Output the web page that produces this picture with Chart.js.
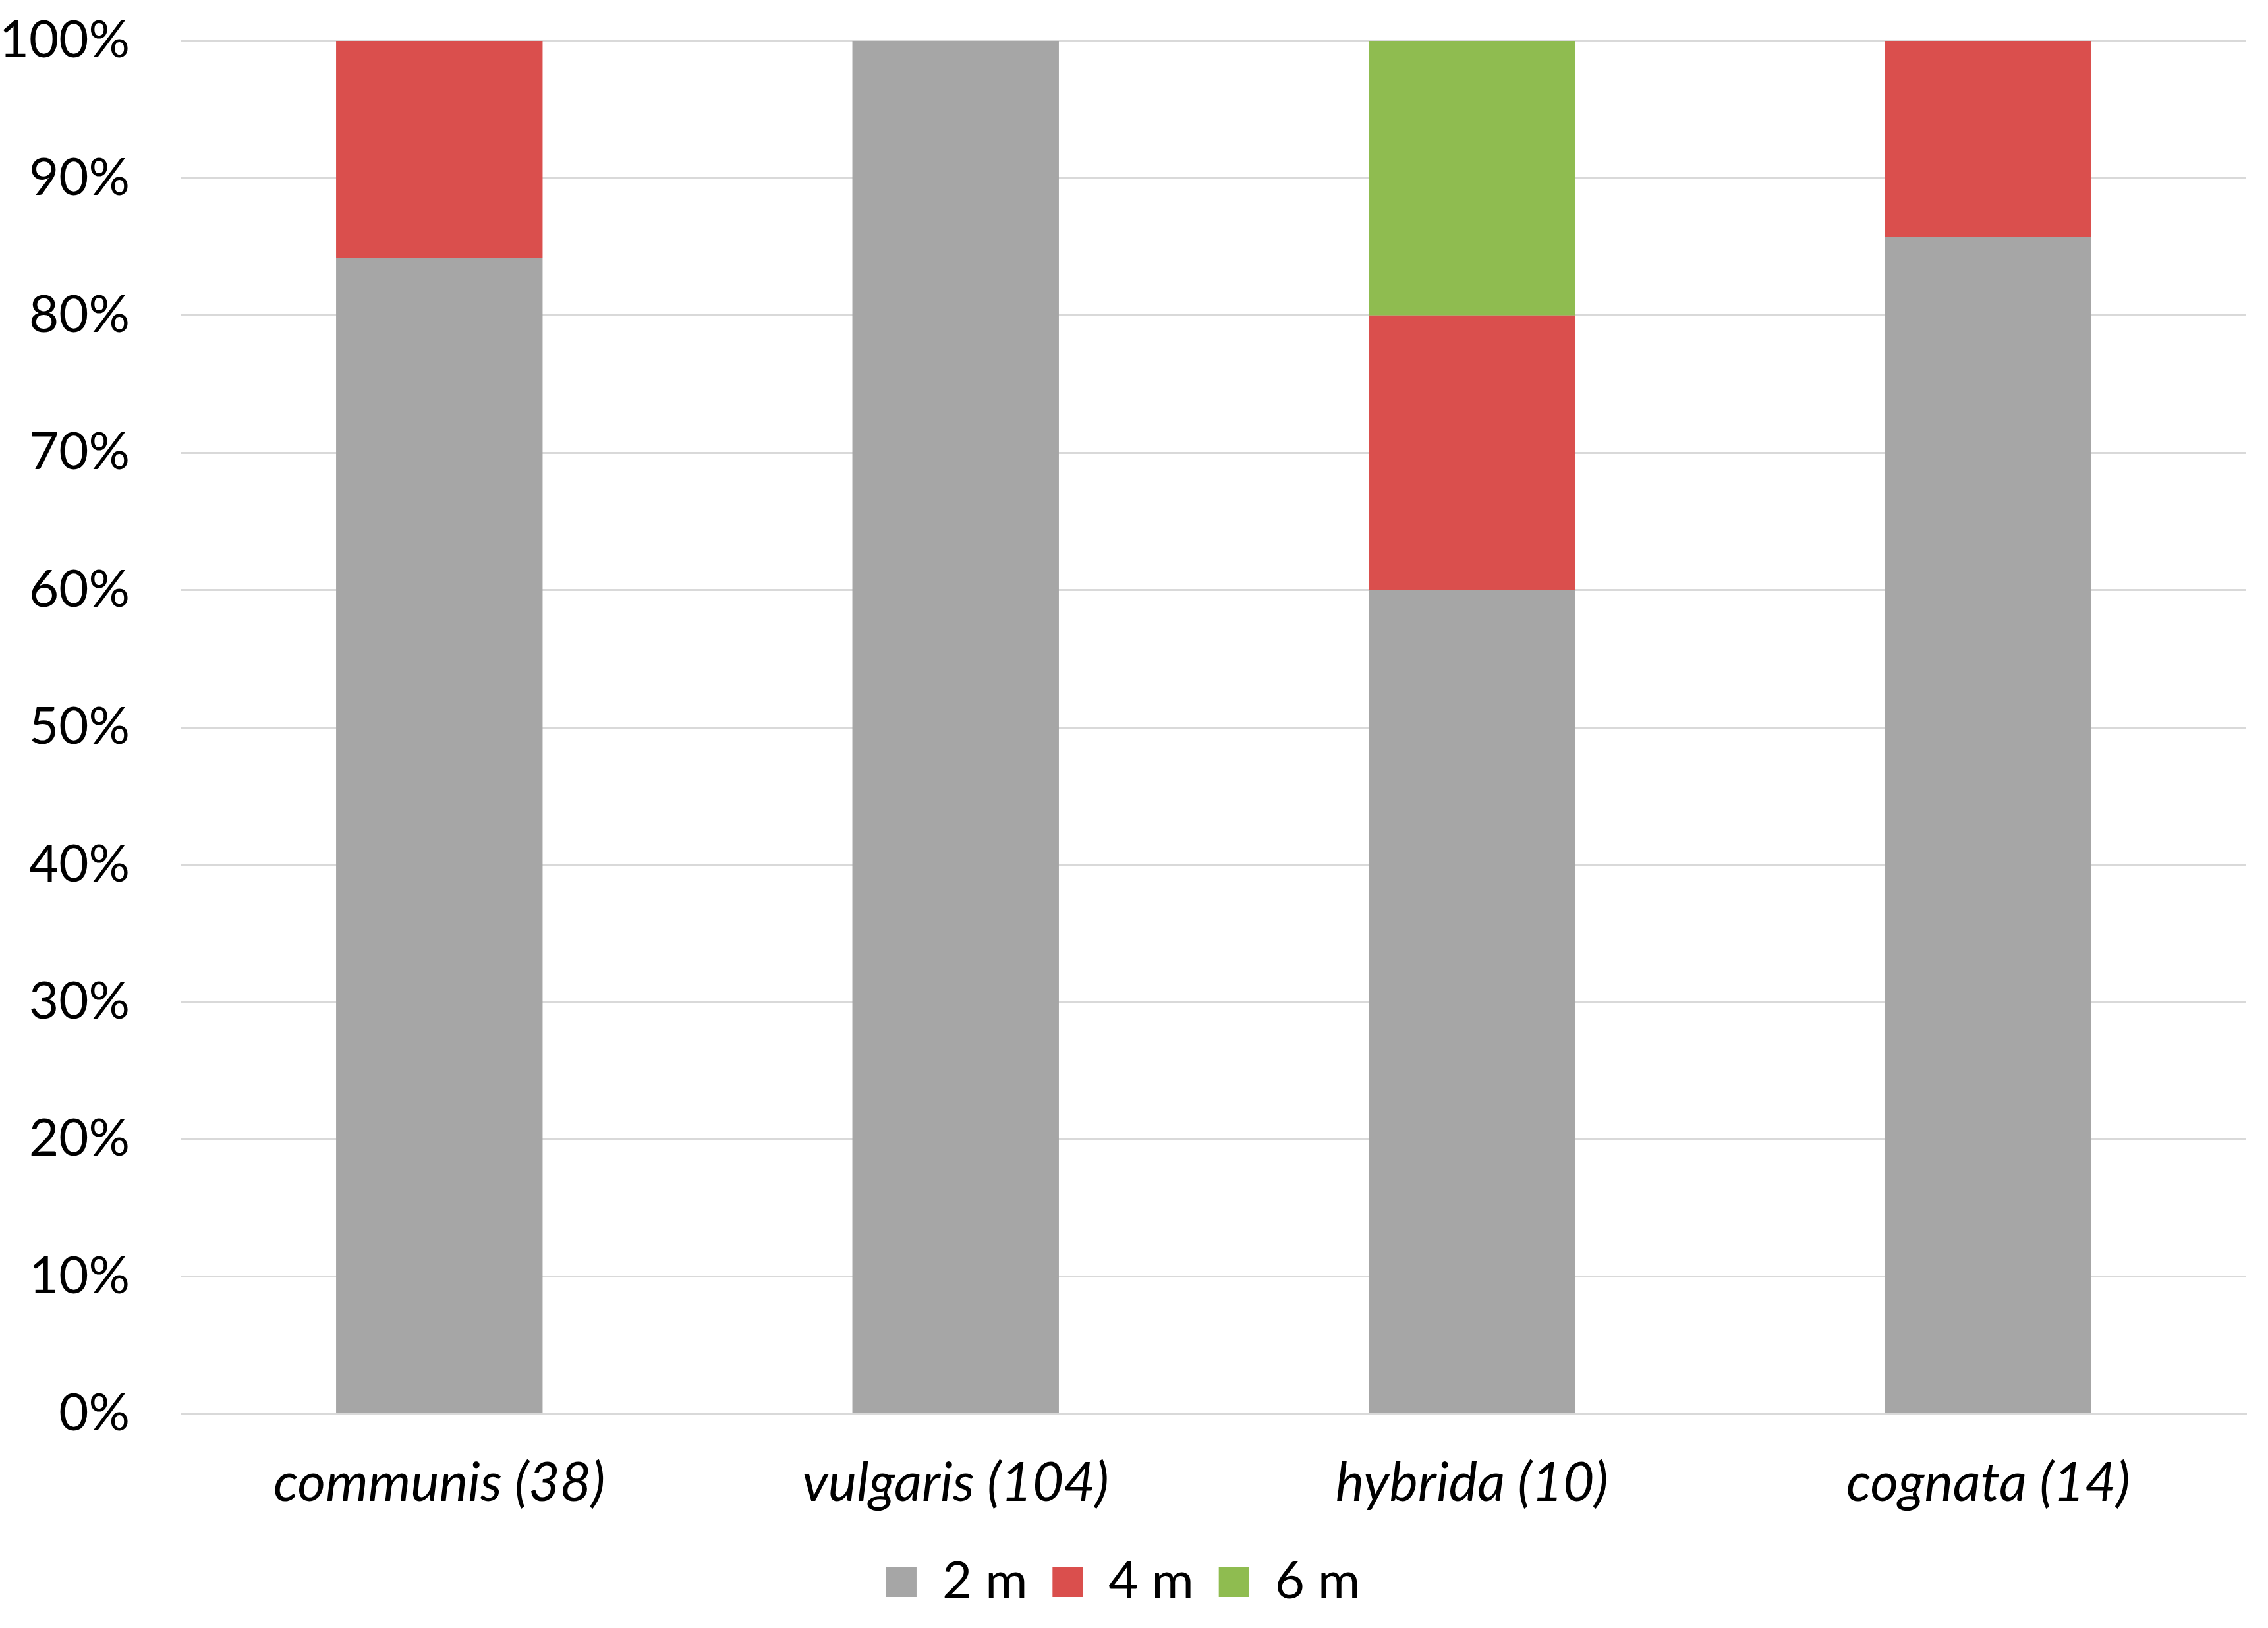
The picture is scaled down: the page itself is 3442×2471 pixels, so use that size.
<!DOCTYPE html>
<html>
<head>
<meta charset="utf-8">
<script src="https://cdn.jsdelivr.net/npm/chart.js@4/dist/chart.umd.min.js"></script>
<style>
html,body{margin:0;padding:0;background:#fff;}
#wrap{width:3442px;height:2471px;}
</style>
</head>
<body>
<div id="wrap"><canvas id="c" width="3442" height="2471"></canvas></div>
<script>
const categories = ["communis (38)", "vulgaris (104)", "hybrida (10)", "cognata (14)"];
const series2m = [84.2, 100, 60, 85.7];
const series4m = [15.8, 0, 20, 14.3];
const series6m = [0, 0, 20, 0];
const seriesNames = ["2 m", "4 m", "6 m"];
const yTicks = [0, 10, 20, 30, 40, 50, 60, 70, 80, 90, 100];

const ctx = document.getElementById('c').getContext('2d');
new Chart(ctx, {
  type: 'bar',
  data: {
    labels: categories,
    datasets: [
      {label: seriesNames[0], data: series2m, backgroundColor: '#A6A6A6'},
      {label: seriesNames[1], data: series4m, backgroundColor: '#DA4F4D'},
      {label: seriesNames[2], data: series6m, backgroundColor: '#8FBC50'}
    ]
  },
  options: {
    responsive: false,
    animation: false,
    devicePixelRatio: 1,
    layout: {padding: {left: 0, right: 33, top: 0, bottom: 21}},
    datasets: {bar: {categoryPercentage: 1.0, barPercentage: 0.4}},
    plugins: {
      legend: {
        position: 'bottom',
        labels: {
          font: {family: 'Lato', size: 78},
          color: '#000',
          boxWidth: 46,
          boxHeight: 46,
          padding: 38
        }
      },
      tooltip: {enabled: false}
    },
    scales: {
      x: {
        stacked: true,
        grid: {display: false, drawTicks: false},
        border: {display: true, color: '#D9D9D9', width: 3},
        ticks: {font: {family: 'Lato', size: 82, style: 'italic'}, color: '#000', padding: 56},
        afterFit: s => { s.height = 178; s.paddingLeft = 0; s.paddingRight = 0; }
      },
      y: {
        stacked: true,
        min: 0, max: 100,
        afterBuildTicks: s => { s.ticks = yTicks.map(v => ({value: v})); },
        grid: {color: '#D9D9D9', lineWidth: 3, drawTicks: false},
        border: {display: false},
        ticks: {font: {family: 'Lato', size: 78, lineHeight: 1.0}, color: '#000', padding: 78,
                callback: v => v + '%'},
        afterFit: s => { s.width = 275; s.paddingTop = 62; s.paddingBottom = 0; }
      }
    }
  }
});
</script>
</body>
</html>
